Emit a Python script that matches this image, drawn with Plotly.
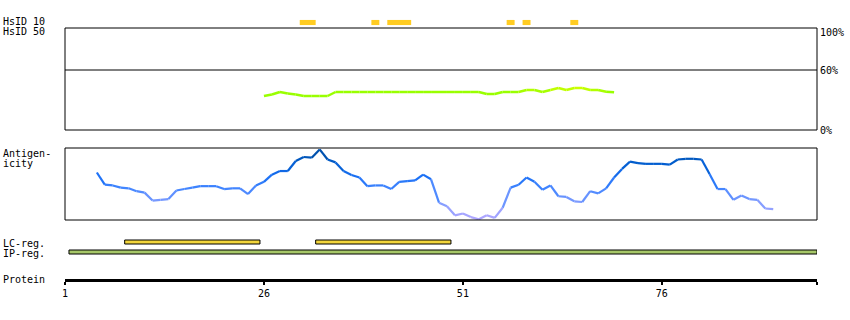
import plotly.graph_objects as go
from plotly.colors import sample_colorscale

W, H = 850, 320

# ---------------- data ----------------
protein_length = 95
tick_residues = [1, 26, 51, 76]

# HsID 10 identity hits (start, end residue)
hsid10_start = [31, 40, 42, 57, 59, 65]
hsid10_end = [32, 40, 44, 57, 59, 65]

# HsID 50 identity (%)
hsid50_res = list(range(26, 71))
hsid50_pct = [34, 35.5, 38, 36.5, 35.5, 34, 34, 34, 34, 38,
              38, 38, 38, 38, 38, 38, 38, 38, 38, 38,
              38, 38, 38, 38, 38, 38, 38, 38, 36, 36,
              38, 38, 38, 40, 40, 38, 40, 42, 40, 42,
              42, 40, 40, 38.3, 37.7]
hsid50_threshold = 60

# Antigenicity score (relative)
antigen_res = list(range(5, 91))
antigen = [0.66, 0.49, 0.48, 0.45, 0.44, 0.40, 0.38, 0.27, 0.28, 0.29,
           0.41, 0.43, 0.45, 0.47, 0.47, 0.47, 0.43, 0.44, 0.44, 0.36,
           0.48, 0.53, 0.63, 0.68, 0.68, 0.82, 0.875, 0.865, 0.98, 0.84,
           0.80, 0.68, 0.625, 0.59, 0.47, 0.48, 0.48, 0.43, 0.53, 0.54,
           0.55, 0.63, 0.565, 0.24, 0.19, 0.065, 0.09, 0.04, 0.01, 0.065,
           0.03, 0.17, 0.45, 0.49, 0.59, 0.53, 0.42, 0.48, 0.33, 0.32,
           0.26, 0.25, 0.40, 0.37, 0.44, 0.59, 0.71, 0.81, 0.79, 0.78,
           0.78, 0.78, 0.77, 0.84, 0.85, 0.85, 0.84, 0.64, 0.43, 0.43,
           0.28, 0.34, 0.29, 0.28, 0.16, 0.15]

# Regions
lc_start = [9, 33]
lc_end = [25, 49]
ip_start = [2]
ip_end = [95]

# ---------------- layout helpers ----------------
def py(p):
    return 1 - p / H

FONT = "DejaVu Sans Mono"
X_LEFT, X_RIGHT = 65, 817

fig = go.Figure()

# HsID 10 bars
fig.add_trace(go.Bar(
    orientation="h", y=[0.5] * len(hsid10_start),
    x=[e - s + 1 for s, e in zip(hsid10_start, hsid10_end)],
    base=[s - 0.5 for s in hsid10_start], width=0.34,
    marker=dict(color="#ffcc22", line=dict(width=0)),
    xaxis="x", yaxis="y4", showlegend=False, hoverinfo="skip"))

# HsID 50 line (segment colors by value)
green_scale = [[0, "#99ff00"], [0.5, "#99ff00"], [0.75, "#b3ff00"], [1, "#ccff00"]]
for i in range(len(hsid50_res) - 1):
    m = (hsid50_pct[i] + hsid50_pct[i + 1]) / 2
    t = min(max((m - 34) / 8, 0), 1)
    c = sample_colorscale(green_scale, [t])[0]
    fig.add_trace(go.Scatter(
        x=hsid50_res[i:i + 2], y=hsid50_pct[i:i + 2], mode="lines",
        line=dict(color=c, width=2.5), xaxis="x", yaxis="y",
        showlegend=False, hoverinfo="skip"))

# Antigenicity line (segment colors by value)
blue_scale = [[0, "#b4a8ff"], [0.25, "#7f9cff"], [0.45, "#3f84ff"],
              [0.6, "#1a70f5"], [0.8, "#005ccc"], [1, "#004a99"]]
for i in range(len(antigen_res) - 1):
    m = (antigen[i] + antigen[i + 1]) / 2
    c = sample_colorscale(blue_scale, [min(max(m, 0), 1)])[0]
    fig.add_trace(go.Scatter(
        x=antigen_res[i:i + 2], y=antigen[i:i + 2], mode="lines",
        line=dict(color=c, width=2.2), xaxis="x", yaxis="y2",
        showlegend=False, hoverinfo="skip"))

# LC-reg and IP-reg bars
fig.add_trace(go.Bar(
    orientation="h", y=[2] * len(lc_start),
    x=[e - s + 1 for s, e in zip(lc_start, lc_end)],
    base=[s - 0.5 for s in lc_start], width=0.4,
    marker=dict(color="#f2d53c", line=dict(color="black", width=1)),
    xaxis="x", yaxis="y3", showlegend=False, hoverinfo="skip"))
fig.add_trace(go.Bar(
    orientation="h", y=[1] * len(ip_start),
    x=[e - s + 1 for s, e in zip(ip_start, ip_end)],
    base=[s - 0.5 for s in ip_start], width=0.4,
    marker=dict(color="#a6c768", line=dict(color="black", width=1)),
    xaxis="x", yaxis="y3", showlegend=False, hoverinfo="skip"))

# frames
for yr in ["y", "y2"]:
    fig.add_shape(type="rect", xref="x domain", yref=f"{yr} domain",
                  x0=0, x1=1, y0=0, y1=1, line=dict(color="black", width=1),
                  layer="above")
fig.add_shape(type="line", xref="x domain", yref="y", x0=0, x1=1,
              y0=hsid50_threshold, y1=hsid50_threshold,
              line=dict(color="black", width=1))

# annotations: left labels
left_labels = [("HsID 10", 22), ("HsID 50", 32), ("Antigen-", 153),
               ("icity", 163), ("LC-reg.", 243), ("IP-reg.", 253),
               ("Protein", 279.5)]
for txt, yy in left_labels:
    fig.add_annotation(text=txt, xref="paper", yref="paper", x=1 / W, y=py(yy),
                       xanchor="left", yanchor="middle", showarrow=False,
                       font=dict(family=FONT, size=10, color="black"))

# right percent labels on HsID 50 axis
for txt, v in [("100%", 100), ("60%", 60), ("0%", 0)]:
    fig.add_annotation(text=txt, xref="paper", yref="y", x=818 / W, y=v,
                       xanchor="left", yanchor="middle", showarrow=False,
                       yshift=-2 if v == 100 else 0,
                       font=dict(family=FONT, size=10, color="black"))

xdom = [X_LEFT / W, X_RIGHT / W]
fig.update_layout(
    width=W, height=H, autosize=False,
    margin=dict(l=0, r=0, t=0, b=0),
    paper_bgcolor="white", plot_bgcolor="white",
    barmode="overlay", showlegend=False,
    xaxis=dict(domain=xdom, range=[1, protein_length + 0.5],
               anchor="free", position=py(280), automargin=False,
               showline=True, linewidth=3, linecolor="black",
               ticks="outside", ticklen=3, tickwidth=2, tickcolor="black",
               tickvals=tick_residues + [protein_length + 0.5],
               ticktext=[str(t) for t in tick_residues] + [""],
               tickfont=dict(family=FONT, size=10, color="black"),
               showgrid=False, zeroline=False, fixedrange=True),
    yaxis=dict(domain=[py(130), py(28)], range=[0, 102], visible=False,
               anchor="x", fixedrange=True),
    yaxis2=dict(domain=[py(220), py(148)], range=[0, 1], visible=False,
                anchor="x", fixedrange=True),
    yaxis3=dict(domain=[py(262), py(232)], range=[0, 3], visible=False,
                anchor="x", fixedrange=True),
    yaxis4=dict(domain=[py(30), py(15)], range=[0, 1], visible=False,
                anchor="x", fixedrange=True),
)

fig.write_html("out.html")
